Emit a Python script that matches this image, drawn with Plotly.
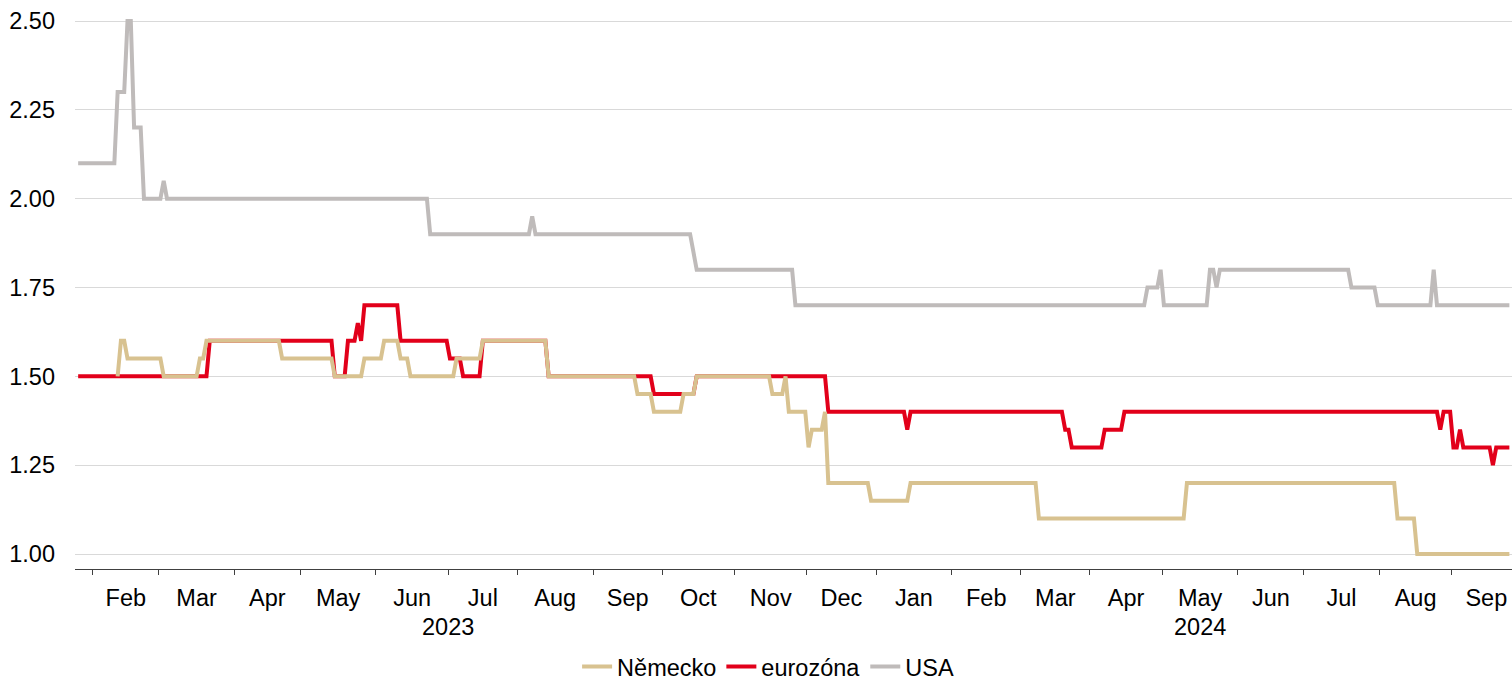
import numpy as np
import pandas as pd
import plotly.graph_objects as go

# Level changes: each date is the first business day of the new level
usa_dates = ["2023-01-25", "2023-02-10", "2023-02-15", "2023-02-17", "2023-02-22",
             "2023-03-02", "2023-03-03", "2023-06-23", "2023-08-07", "2023-08-08",
             "2023-10-13", "2023-10-16", "2023-11-27", "2024-04-24", "2024-04-30",
             "2024-05-01", "2024-05-21", "2024-05-23", "2024-05-24", "2024-07-19",
             "2024-07-31", "2024-08-23", "2024-08-26"]
usa_values = [2.10, 2.30, 2.50, 2.20, 2.00,
              2.05, 2.00, 1.90, 1.95, 1.90,
              1.85, 1.80, 1.70, 1.75, 1.80,
              1.70, 1.80, 1.75, 1.80, 1.75,
              1.70, 1.80, 1.70]

ez_dates = ["2023-01-25", "2023-03-22", "2023-05-15", "2023-05-19", "2023-05-24",
            "2023-05-25", "2023-05-26", "2023-06-12", "2023-07-03", "2023-07-07",
            "2023-07-17", "2023-08-14", "2023-09-27", "2023-10-16", "2023-12-11",
            "2024-01-12", "2024-01-15", "2024-03-20", "2024-03-22", "2024-04-05",
            "2024-04-15", "2024-08-27", "2024-08-28", "2024-09-02", "2024-09-04",
            "2024-09-05", "2024-09-18", "2024-09-19"]
ez_values = [1.50, 1.60, 1.50, 1.60, 1.65,
             1.60, 1.70, 1.60, 1.55, 1.50,
             1.60, 1.50, 1.45, 1.50, 1.40,
             1.35, 1.40, 1.35, 1.30, 1.35,
             1.40, 1.35, 1.40, 1.30, 1.35,
             1.30, 1.25, 1.30]

de_dates = ["2023-02-10", "2023-02-13", "2023-02-15", "2023-03-02", "2023-03-17",
            "2023-03-21", "2023-04-21", "2023-05-15", "2023-05-26", "2023-06-05",
            "2023-06-12", "2023-06-15", "2023-07-05", "2023-07-17", "2023-08-14",
            "2023-09-20", "2023-09-27", "2023-10-10", "2023-10-16", "2023-11-16",
            "2023-11-22", "2023-11-23", "2023-12-01", "2023-12-04", "2023-12-08",
            "2023-12-11", "2023-12-28", "2024-01-15", "2024-03-08", "2024-05-10",
            "2024-08-08", "2024-08-16"]
de_values = [1.50, 1.60, 1.55, 1.50, 1.55,
             1.60, 1.55, 1.50, 1.55, 1.60,
             1.55, 1.50, 1.55, 1.60, 1.50,
             1.45, 1.40, 1.45, 1.50, 1.45,
             1.50, 1.40, 1.30, 1.35, 1.40,
             1.20, 1.15, 1.20, 1.10, 1.20,
             1.10, 1.00]

last_date = "2024-09-25"

month_names = ["Jan", "Feb", "Mar", "Apr", "May", "Jun",
               "Jul", "Aug", "Sep", "Oct", "Nov", "Dec"]
y_ticks = [1.00, 1.25, 1.50, 1.75, 2.00, 2.25, 2.50]

# The x axis counts business days (weekends are not drawn)
origin = np.datetime64("2023-02-01")


def bday_pos(d):
    return np.busday_count(origin, np.datetime64(d, "D"))


def daily(dates, values):
    days = pd.bdate_range(dates[0], last_date)
    s = pd.Series(values, index=pd.to_datetime(dates)).reindex(days).ffill()
    x = np.array([bday_pos(d.date()) for d in days])
    return x, s.values


# Month boundaries and centres for the axis
months = pd.date_range("2023-01-01", "2024-10-01", freq="MS")
bounds = np.array([bday_pos(m.date()) for m in months]) - 0.5
centres = (bounds[:-1] + bounds[1:]) / 2
month_starts = months[:-1]

x_min, x_max = -5.96, 430.8
vis = (centres > x_min) & (centres < x_max)
tick_pos = centres[vis]
tick_txt = [month_names[m.month - 1] for m in month_starts[vis]]
bound_ticks = [b for b in bounds if x_min < b < x_max]
year_break = bday_pos("2024-01-01") - 0.5

year_labels = []
for yr in (2023, 2024):
    c = [centres[i] for i, m in enumerate(month_starts) if m.year == yr]
    year_labels.append((str(yr), (c[0] + c[-1]) / 2))

fig = go.Figure()

series = [
    ("USA", usa_dates, usa_values, "#BFBBBA", 3),
    ("eurozóna", ez_dates, ez_values, "#E2001A", 2),
    ("Německo", de_dates, de_values, "#D8C290", 1),
]
for name, d, v, col, rank in series:
    x, y = daily(d, v)
    fig.add_trace(go.Scatter(
        x=x, y=y, mode="lines", name=name, legendrank=rank,
        line=dict(color=col, width=4), hoverinfo="skip",
    ))

font = dict(family="Liberation Sans, Arial, sans-serif", size=23.5, color="#000000")

fig.update_layout(
    width=1512, height=683,
    margin=dict(l=75, r=0, t=10, b=114),
    paper_bgcolor="white", plot_bgcolor="white",
    font=font,
    showlegend=True,
    legend=dict(orientation="h", xref="container", yref="container",
                x=0.508, y=0.024, xanchor="center", yanchor="middle",
                font=font, itemwidth=30, tracegroupgap=0),
    xaxis=dict(
        range=[x_min, x_max], showgrid=False, zeroline=False,
        showline=True, linecolor="#404040", linewidth=1,
        tickmode="array", tickvals=tick_pos, ticktext=tick_txt,
        ticks="", ticklabelstandoff=8,
        minor=dict(tickmode="array", tickvals=bound_ticks, ticks="outside",
                   ticklen=5, tickwidth=1, tickcolor="#404040", showgrid=False),
    ),
    xaxis2=dict(
        range=[x_min, x_max], overlaying="x", anchor="y", side="bottom",
        showgrid=False, zeroline=False, showline=False,
        tickmode="array", tickvals=[year_break], ticktext=[""],
        ticks="outside", ticklen=12, tickwidth=1, tickcolor="#404040",
        showticklabels=False,
    ),
    yaxis=dict(
        range=[0.9578, 2.531], tickmode="array", tickvals=y_ticks,
        tickformat=".2f", showgrid=True, gridcolor="#D9D9D9", gridwidth=1,
        zeroline=False, showline=False, ticks="", ticklabelstandoff=19,
    ),
)

for txt, xc in year_labels:
    fig.add_annotation(x=xc, y=-0.1038, xref="x", yref="paper", text=txt,
                       showarrow=False, font=font, xanchor="center", yanchor="middle")

fig.write_html("out.html")
